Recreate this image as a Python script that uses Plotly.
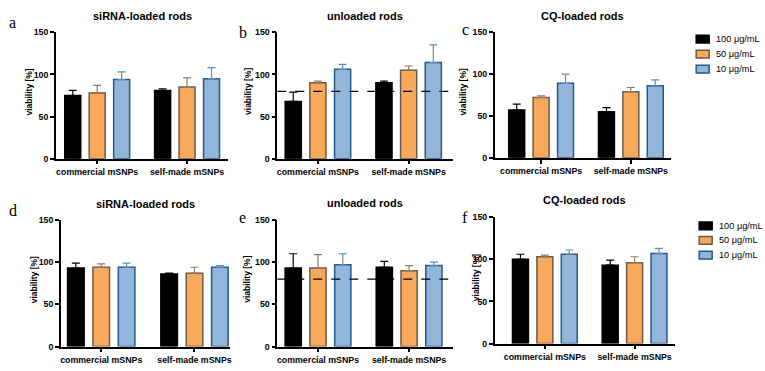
import plotly.graph_objects as go

# ---------------- data ----------------
groups = ["commercial mSNPs", "self-made mSNPs"]
concs = ["100 μg/mL", "50 μg/mL", "10 μg/mL"]
titles = ["siRNA-loaded rods", "unloaded rods", "CQ-loaded rods",
          "siRNA-loaded rods", "unloaded rods", "CQ-loaded rods"]
letters = ["a", "b", "c", "d", "e", "f"]
threshold = 80
y_ticks = [0, 50, 100, 150]

# mean viability [%] per panel -> per concentration -> per group
a_mean = [[75, 81], [78, 85], [94, 95]]
a_sd = [[6, 2], [9, 11], [9, 13]]
b_mean = [[68, 90], [90, 105], [106, 114]]
b_sd = [[11, 2], [2, 5], [6, 21]]
c_mean = [[57, 55], [72, 79], [89, 86]]
c_sd = [[7, 5], [2, 5], [11, 7]]
d_mean = [[93, 86], [94, 87], [94, 94]]
d_sd = [[6, 1], [4, 7], [5, 2]]
e_mean = [[93, 94], [93, 90], [97, 96]]
e_sd = [[17, 7], [16, 6], [13, 4]]
f_mean = [[100, 93], [103, 96], [106, 107]]
f_sd = [[6, 6], [2, 7], [5, 6]]

means = [a_mean, b_mean, c_mean, d_mean, e_mean, f_mean]
sds = [a_sd, b_sd, c_sd, d_sd, e_sd, f_sd]
has_threshold = [False, True, False, False, True, False]

# ---------------- style ----------------
W, H = 765, 371
FONT = "Liberation Sans, Arial, sans-serif"
fills = ["#000000", "#F9A95C", "#92B5D9"]
borders = ["#000000", "#6E5A45", "#235B8C"]
err_cols = ["#000000", "#8F7B66", "#5F8DB5"]

# panel geometry in pixels: x-domain, y-domain (top, bottom), x range
panels = [
    dict(x=(55, 228), y=(28, 158), r=(-0.46, 1.46)),
    dict(x=(277, 453), y=(28, 158), r=(-0.448, 1.487)),
    dict(x=(495, 672), y=(28, 157), r=(-0.517, 1.45)),
    dict(x=(60, 230), y=(221, 351), r=(-0.433, 1.385)),
    dict(x=(277, 453), y=(221, 351), r=(-0.447, 1.48)),
    dict(x=(495, 676), y=(218, 348), r=(-0.559, 1.453)),
]
letter_pos = [(6, 18), (237, 28), (460, 25), (6, 211), (237, 218), (460, 218)]
ylab_pos = [(28, 89), (247, 89), (463, 89), (33, 282), (247, 282), (477, 280)]
title_y = [11, 11, 11, 204, 203, 200]
legend_rows = [dict(x=697, y=[35, 50.5, 66]), dict(x=700, y=[227, 242, 257])]


def px(x):
    return x / W


def py(y):
    return 1 - y / H


fig = go.Figure()
annotations = []
shapes = []

for i, p in enumerate(panels):
    n = "" if i == 0 else str(i + 1)
    xa, ya = "x" + n, "y" + n
    for k, c in enumerate(concs):
        fig.add_trace(go.Bar(
            x=[0, 1], y=means[i][k], name=c, showlegend=False,
            xaxis=xa, yaxis=ya, offsetgroup=str(k),
            marker=dict(color=fills[k], line=dict(color=borders[k], width=1.5)),
            error_y=dict(type="data", array=sds[i][k], arrayminus=[0, 0],
                         symmetric=False, color=err_cols[k], thickness=1.2, width=4),
        ))
    fig.layout["xaxis" + n] = dict(
        domain=[px(p["x"][0]), px(p["x"][1])], range=list(p["r"]),
        anchor=ya, tickvals=[0, 1], ticktext=groups, ticks="outside",
        ticklen=4, tickwidth=1.5, tickcolor="black", showline=True,
        linecolor="black", linewidth=1.5, showgrid=False, zeroline=False,
        tickfont=dict(family=FONT, size=8.8, color="black", weight="bold"),
        fixedrange=True)
    fig.layout["yaxis" + n] = dict(
        domain=[py(p["y"][1]), py(p["y"][0])], range=[0, 150],
        anchor=xa, tickvals=y_ticks, ticks="outside", ticklen=4,
        tickwidth=1.5, tickcolor="black", showline=True, linecolor="black",
        linewidth=1.5, showgrid=False, zeroline=False,
        tickfont=dict(family=FONT, size=8.8, color="black", weight="bold"),
        fixedrange=True)
    if has_threshold[i]:
        shapes.append(dict(type="line", xref=xa + " domain", x0=0, x1=1,
                           yref=ya, y0=threshold, y1=threshold, layer="above",
                           line=dict(color="black", width=1.3, dash="dash")))
    # title
    annotations.append(dict(
        text=titles[i], xref="paper", yref="paper",
        x=px((p["x"][0] + p["x"][1]) / 2), y=py(title_y[i]),
        xanchor="center", yanchor="middle", showarrow=False,
        font=dict(family=FONT, size=11, color="black", weight="bold")))
    # panel letter
    lx, ly = letter_pos[i]
    annotations.append(dict(
        text=letters[i], xref="paper", yref="paper", x=px(lx), y=py(ly),
        xanchor="left", yanchor="middle", showarrow=False,
        font=dict(family="Liberation Serif, Times New Roman, serif", size=16,
                  color="black")))
    # y label
    yx, yy = ylab_pos[i]
    annotations.append(dict(
        text="viability [%]", xref="paper", yref="paper", x=px(yx), y=py(yy),
        xanchor="center", yanchor="middle", textangle=-90, showarrow=False,
        font=dict(family=FONT, size=8.5, color="black", weight="bold")))

# legends (one per row of panels)
for lg in legend_rows:
    for k, c in enumerate(concs):
        yc = lg["y"][k]
        shapes.append(dict(type="rect", xref="paper", yref="paper",
                           x0=px(lg["x"]), x1=px(lg["x"] + 13),
                           y0=py(yc + 4), y1=py(yc - 4),
                           fillcolor=fills[k], line=dict(color=borders[k], width=1.5)))
        annotations.append(dict(
            text=c, xref="paper", yref="paper", x=px(lg["x"] + 18), y=py(yc),
            xanchor="left", yanchor="middle", showarrow=False,
            font=dict(family=FONT, size=9.2, color="black")))

fig.update_layout(
    width=W, height=H, margin=dict(l=0, r=0, t=0, b=0),
    paper_bgcolor="white", plot_bgcolor="white",
    barmode="group", bargap=0.184, bargroupgap=0.346,
    showlegend=False, annotations=annotations, shapes=shapes,
    font=dict(family=FONT, color="black"),
)

fig.write_html("out.html", config={"displayModeBar": False})
